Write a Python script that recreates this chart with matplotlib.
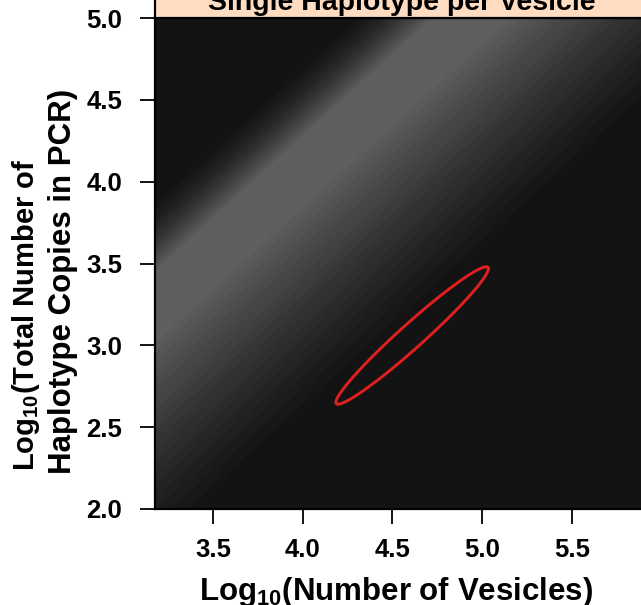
import numpy as np
import matplotlib
matplotlib.use("Agg")
import matplotlib.pyplot as plt
from matplotlib.colors import LinearSegmentedColormap
from matplotlib.patches import Rectangle

plt.rcParams["font.family"] = ["Liberation Sans", "DejaVu Sans"]
plt.rcParams["font.weight"] = "bold"
plt.rcParams["mathtext.fontset"] = "custom"
plt.rcParams["mathtext.rm"] = "Liberation Sans:bold"
plt.rcParams["mathtext.bf"] = "Liberation Sans:bold"
plt.rcParams["mathtext.it"] = "Liberation Sans:bold"

# -- data --------------------------------------------------------------------
title = "Single Haplotype per Vesicle"
x_ticks = [3.5, 4.0, 4.5, 5.0, 5.5]
y_ticks = [2.0, 2.5, 3.0, 3.5, 4.0, 4.5, 5.0]
x_range = [3.177, 5.93]
y_range = [2.0, 5.0]

# likelihood ridge along log10(copies) - log10(vesicles)
ridge_lo = -0.10      # lower edge of brightest band
ridge_hi = 0.26       # upper edge of brightest band
fade_upper = 0.50     # distance to full dark above the ridge
fade_upper_pow = 1.7
fade_lower = 1.38     # distance to full dark below the ridge
fade_lower_pow = 1.25
n_levels = 20
gray_dark = "#111111"
gray_light = "#606060"

# estimate ellipse (centre, half extents, correlation)
ell_center = [4.61, 3.06]
ell_half = [0.425, 0.42]
ell_rho = 0.972
ell_color = "#E0201E"

strip_color = "#FDDCC2"

# -- figure -------------------------------------------------------------------
W, H = 641, 605
fig = plt.figure(figsize=(W / 100, H / 100), dpi=100)
fig.patch.set_facecolor("white")

ax_l, ax_r, ax_t, ax_b = 155, 649, 18, 509
ax = fig.add_axes([ax_l / W, 1 - ax_b / H, (ax_r - ax_l) / W, (ax_b - ax_t) / H])

gx = np.linspace(3.0, 6.1, 400)
gy = np.linspace(1.9, 5.1, 400)
X, Y = np.meshgrid(gx, gy)
U = Y - X
up = np.clip((U - ridge_hi) / fade_upper, 0, 1)
lo = np.clip((ridge_lo - U) / fade_lower, 0, 1)
Z = np.where(U > ridge_hi, (1 - up) ** fade_upper_pow,
             np.where(U < ridge_lo, (1 - lo) ** fade_lower_pow, 1.0))

cmap = LinearSegmentedColormap.from_list("g", [gray_dark, gray_light])
ax.contourf(X, Y, Z, levels=np.linspace(0, 1.0001, n_levels + 1), cmap=cmap,
            antialiased=False)

t = np.linspace(0, 2 * np.pi, 400)
ex = ell_center[0] + ell_half[0] * np.cos(t)
ey = ell_center[1] + ell_half[1] * (ell_rho * np.cos(t)
                                    + np.sqrt(1 - ell_rho ** 2) * np.sin(t))
ax.plot(ex, ey, color=ell_color, lw=2.1, solid_capstyle="round")

ax.set_xlim(x_range)
ax.set_ylim(y_range)
ax.set_xticks(x_ticks)
ax.set_yticks(y_ticks)
ax.set_xticklabels([f"{v:.1f}" for v in x_ticks])
ax.set_yticklabels([f"{v:.1f}" for v in y_ticks])
ax.tick_params(axis="both", length=11, width=1.3, labelsize=18.5, color="black")
ax.tick_params(axis="x", pad=10)
ax.tick_params(axis="y", pad=12.5)
for lab in ax.get_xticklabels() + ax.get_yticklabels():
    lab.set_fontweight("bold")
for s in ax.spines.values():
    s.set_linewidth(1.6)

# title strip
fig.patches.append(Rectangle((ax_l / W, 1 - ax_t / H), (ax_r - ax_l) / W, 0.08,
                             transform=fig.transFigure, facecolor=strip_color,
                             edgecolor="black", lw=1.6, zorder=0))
fig.text(402 / W, 1 - 10 / H, title, ha="center", va="baseline",
         fontsize=20.5, fontweight="bold")

fig.text(396 / W, 1 - 600 / H, r"Log$_{\mathbf{10}}$(Number of Vesicles)",
         ha="center", va="baseline", fontsize=22.5, fontweight="bold")
fig.text(26 / W, 1 - 471 / H, r"Log$_{\mathbf{10}}$(Total Number of",
         ha="center", va="bottom", rotation=90, fontsize=21, fontweight="bold")
fig.text(63 / W, 1 - 474 / H, "Haplotype Copies in PCR)",
         ha="center", va="bottom", rotation=90, fontsize=22.5, fontweight="bold")

fig.savefig("out.png", dpi=100)
